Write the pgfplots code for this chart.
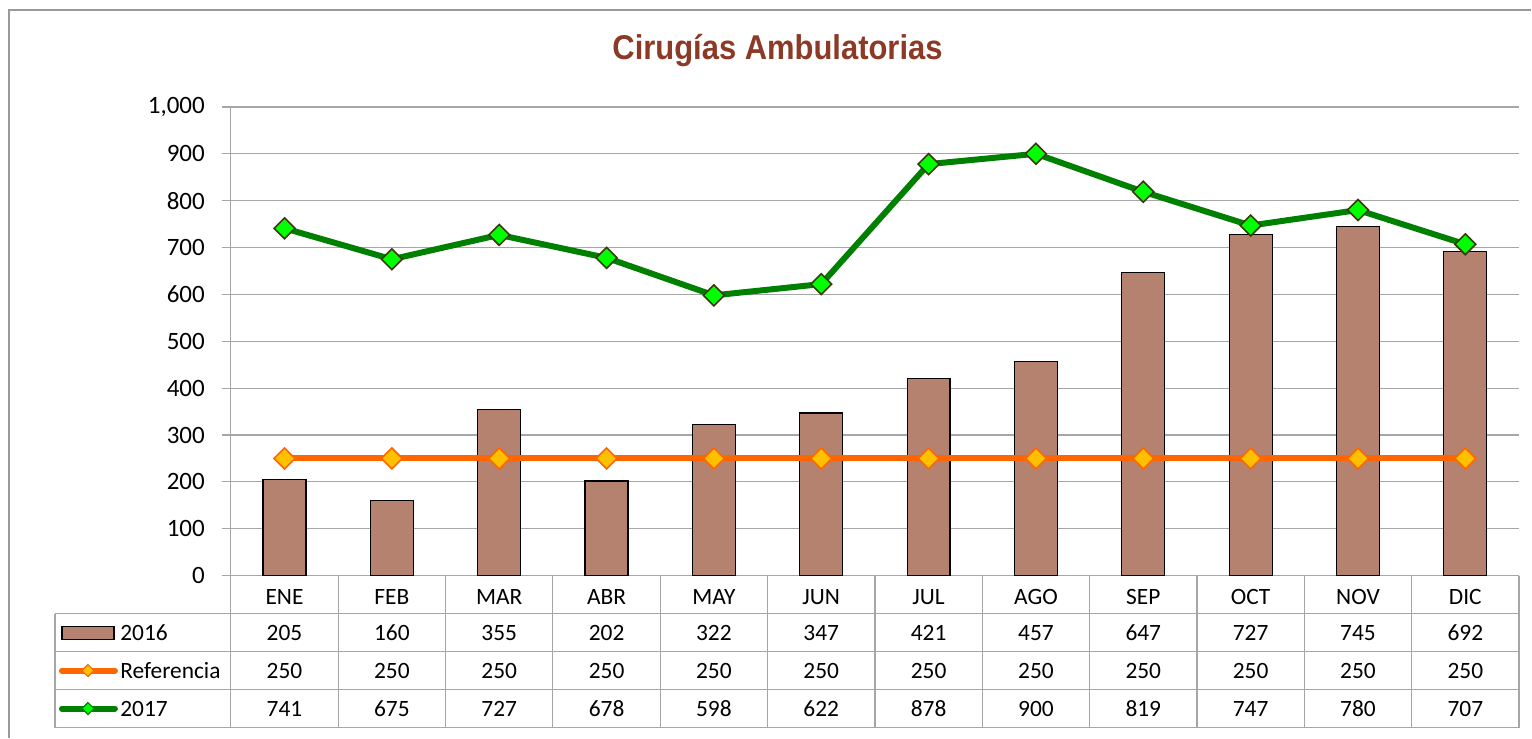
\documentclass[border=0pt]{standalone}
\usepackage{pgfplots}
\usepackage{pgfplotstable}
\pgfplotsset{compat=1.18}
\usepackage{fontspec}
\setmainfont{Carlito}
\newfontfamily\titlefont[FakeStretch=0.9]{Liberation Sans}
\definecolor{barbrown}{RGB}{181,130,111}
\definecolor{refor}{RGB}{255,102,0}
\definecolor{refgold}{RGB}{255,192,0}
\definecolor{gline}{RGB}{0,128,0}
\definecolor{gmark}{RGB}{0,255,0}
\definecolor{gedge}{RGB}{60,56,16}
\definecolor{titlered}{RGB}{140,58,38}
\definecolor{tgray}{RGB}{166,166,166}
\pgfplotstableread{
x month y2016 ref y2017
0 ENE 205 250 741
1 FEB 160 250 675
2 MAR 355 250 727
3 ABR 202 250 678
4 MAY 322 250 598
5 JUN 347 250 622
6 JUL 421 250 878
7 AGO 457 250 900
8 SEP 647 250 819
9 OCT 727 250 747
10 NOV 745 250 780
11 DIC 692 250 707
}\datatable
\begin{document}
\begin{tikzpicture}
\begin{scope}[x=0.5pt,y=-0.5pt]
\fill[white] (0,0) rectangle (1532,738);
\draw[gray!80, line width=1pt] (9,738) -- (9,10) -- (1532,10);
\node[font=\titlefont\bfseries\fontsize{17.2}{18}\selectfont, text=titlered] at (778,51) {Cirugías Ambulatorias};
\end{scope}
\begin{axis}[
  at={(115.5pt,-288pt)}, anchor=south west,
  scale only axis, width=644.5pt, height=234.5pt,
  xmin=-0.5, xmax=11.5, ymin=0, ymax=1000,
  axis x line*=bottom, axis y line*=left,
  axis line style={draw=tgray, line width=0.6pt, -},
  ytick={0,100,...,1000},
  ymajorgrids, major grid style={draw=tgray, line width=0.6pt},
  tick align=outside, major tick length=4.5pt,
  ytick style={draw=tgray, line width=0.6pt},
  xtick=data, xticklabels from table={\datatable}{month},
  xtick style={draw=none},
  xticklabel style={font=\fontsize{11.7}{13}\selectfont, anchor=center, yshift=-6pt},
  yticklabel style={font=\fontsize{12.5}{14}\selectfont, xshift=-5pt},
  /pgf/number format/assume math mode=true,
  /pgf/number format/1000 sep={,},
  clip=false,
]
\addplot[ybar, bar width=21.5pt, fill=barbrown, draw=black, line width=0.6pt] table[x=x,y=y2016] {\datatable};
\addplot[refor, line width=3pt, mark=square*, mark size=3.7pt, mark options={rotate=45, fill=refgold, draw=refor, line width=0.8pt}] table[x=x,y=ref] {\datatable};
\addplot[gline, line width=3pt, mark=square*, mark size=3.7pt, mark options={rotate=45, fill=gmark, draw=gedge, line width=0.8pt}] table[x=x,y=y2017] {\datatable};
\end{axis}
\begin{scope}[x=0.5pt,y=-0.5pt]
\foreach \k in {0,...,12} {
  \draw[tgray, line width=0.6pt] ({231+\k*107.4167},576) -- ({231+\k*107.4167},728);
}
\draw[tgray, line width=0.6pt] (55,614) -- (55,728);
\foreach \yy in {614,652,690,728} {
  \draw[tgray, line width=0.6pt] (55,\yy) -- (1520,\yy);
}
\foreach \i in {0,...,11} {
  \pgfmathsetmacro\cx{231+(\i+0.5)*107.4167}
  \pgfplotstablegetelem{\i}{y2016}\of\datatable
  \node[font=\fontsize{11.7}{13}\selectfont] at (\cx,633) {\pgfplotsretval};
  \pgfplotstablegetelem{\i}{ref}\of\datatable
  \node[font=\fontsize{11.7}{13}\selectfont] at (\cx,671) {\pgfplotsretval};
  \pgfplotstablegetelem{\i}{y2017}\of\datatable
  \node[font=\fontsize{11.7}{13}\selectfont] at (\cx,709) {\pgfplotsretval};
}
% legend keys
\filldraw[fill=barbrown, draw=black, line width=0.6pt] (62,627) rectangle (114,640);
\node[font=\fontsize{11.7}{13}\selectfont, anchor=west, inner sep=0pt] at (120,633) {2016};
\draw[refor, line width=3pt, line cap=round] (62,671) -- (115,671);
\filldraw[fill=refgold, draw=refor, line width=0.6pt] (88,665) -- (94,671) -- (88,677) -- (82,671) -- cycle;
\node[font=\fontsize{11.7}{13}\selectfont, anchor=west, inner sep=0pt] at (120,671) {Referencia};
\draw[gline, line width=3pt, line cap=round] (62,709) -- (115,709);
\filldraw[fill=gmark, draw=gline, line width=0.6pt] (88,703) -- (94,709) -- (88,715) -- (82,709) -- cycle;
\node[font=\fontsize{11.7}{13}\selectfont, anchor=west, inner sep=0pt] at (120,709) {2017};
\end{scope}
\end{tikzpicture}
\end{document}
